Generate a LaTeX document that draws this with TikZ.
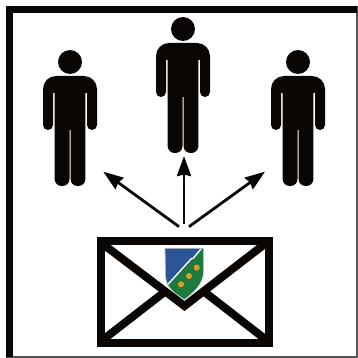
\documentclass[tikz,border=0pt]{standalone}
\usepackage{xcolor}
\usepackage{tikz}
\usetikzlibrary{
arrows.meta,
positioning
}
\definecolor{MailBlack}{HTML}{0A0604}
\definecolor{MailGray}{HTML}{555555}
\definecolor{ShieldBlue}{HTML}{2B5597}
\definecolor{ShieldGreen}{HTML}{1C7A3C}
\definecolor{ShieldGold}{HTML}{D9A02A}
\definecolor{ShieldEdge}{HTML}{B8BCB8}
\tikzset{
framethick/.style={draw=MailBlack, line width=7pt},
framethin/.style={draw=MailGray, line width=2pt},
mailbox/.style={draw=MailBlack, fill=white, line width=8pt, minimum width=168pt,
  minimum height=102pt, inner sep=0pt, outer sep=0pt},
mailflap/.style={draw=MailBlack, line width=8pt, line join=miter},
sendarrow/.style={-{Stealth[length=20pt, width=14pt, inset=1.5pt]}, draw=MailBlack, line width=2.8pt},
shieldedge/.style={draw=ShieldEdge, line width=0.8pt},
shieldline/.style={draw=white, line width=1.4pt},
shielddot/.style={circle, fill=ShieldGold, inner sep=0pt, minimum size=6pt},
person/.pic={
  \fill[MailBlack] (0,0) circle (12pt);
  \fill[MailBlack] (0,14) [rounded corners=13pt] -- (27,14) [rounded corners=5pt] -- (27,68)
    -- (17,68) [sharp corners] -- (17,31) -- (15.4,31) [rounded corners=7pt] -- (15.4,124)
    -- (0.5,124) [sharp corners] -- (0.5,68) -- (-0.5,68) [rounded corners=7pt] -- (-0.5,124)
    -- (-15.4,124) [sharp corners] -- (-15.4,31) -- (-17,31) [rounded corners=5pt] -- (-17,68)
    -- (-27,68) [rounded corners=13pt] -- (-27,14) [sharp corners] -- cycle;
}
}
\begin{document}
\begin{tikzpicture}[x=1pt, y=-1pt]
\useasboundingbox (0,0) rectangle (358,358);
\fill[white] (0,0) rectangle (358,358);

\draw[framethin] (357,6) -- (357,357) -- (6,357);
\draw[framethick] (9.5,357) -- (9.5,9.5) -- (357,9.5);

\pic (personleft) at (70,62) {person};
\pic (personmid) at (183,29) {person};
\pic (personright) at (298,62) {person};

\node[mailbox] (mail) at (184.7,292) {};
\draw[mailflap] (mail.north west) ++(4,4.5) coordinate (flapleft)
  -- (184.5,306) coordinate (flaptip) -- (268,241.5) coordinate (flapright);
\draw[mailflap] (100.7,341.5) coordinate (cornerleft) -- (165,291.6) coordinate (foldleft);
\draw[mailflap] (268.3,341.5) coordinate (cornerright) -- (204,291.6) coordinate (foldright);

\path[fill=ShieldBlue, shieldedge] (165,248.3) -- (203.3,248.3) -- (203.3,272)
  .. controls (203.3,284) and (192,294) .. (184.3,299.3)
  .. controls (176,294) and (166,288) .. (165.5,276) -- cycle;
\fill[ShieldGreen] (201.5,249) -- (202.9,249) -- (202.9,272)
  .. controls (202.9,283.5) and (192,293.5) .. (184.3,298.8)
  .. controls (178,294.5) and (172,291) .. (169,285) -- cycle;
\draw[shieldline] (201,249) -- (193,258.5) -- (191.5,258.5) -- (168.3,284);
\node[shielddot] (dotlow) at (181,284.3) {};
\node[shielddot] (dotmid) at (189,276) {};
\node[shielddot] (dothigh) at (196.7,267.7) {};

\coordinate (startleft) at (179,226.7);
\coordinate (startmid) at (184,224);
\coordinate (startright) at (189,226.7);
\coordinate (tipleft) at (103.3,171.7);
\coordinate (tipmid) at (184,156);
\coordinate (tipright) at (265,171.7);

\foreach \a/\b in {startleft/tipleft,startmid/tipmid,startright/tipright}
\draw[sendarrow] (\a) -- (\b);
\end{tikzpicture}
\end{document}
